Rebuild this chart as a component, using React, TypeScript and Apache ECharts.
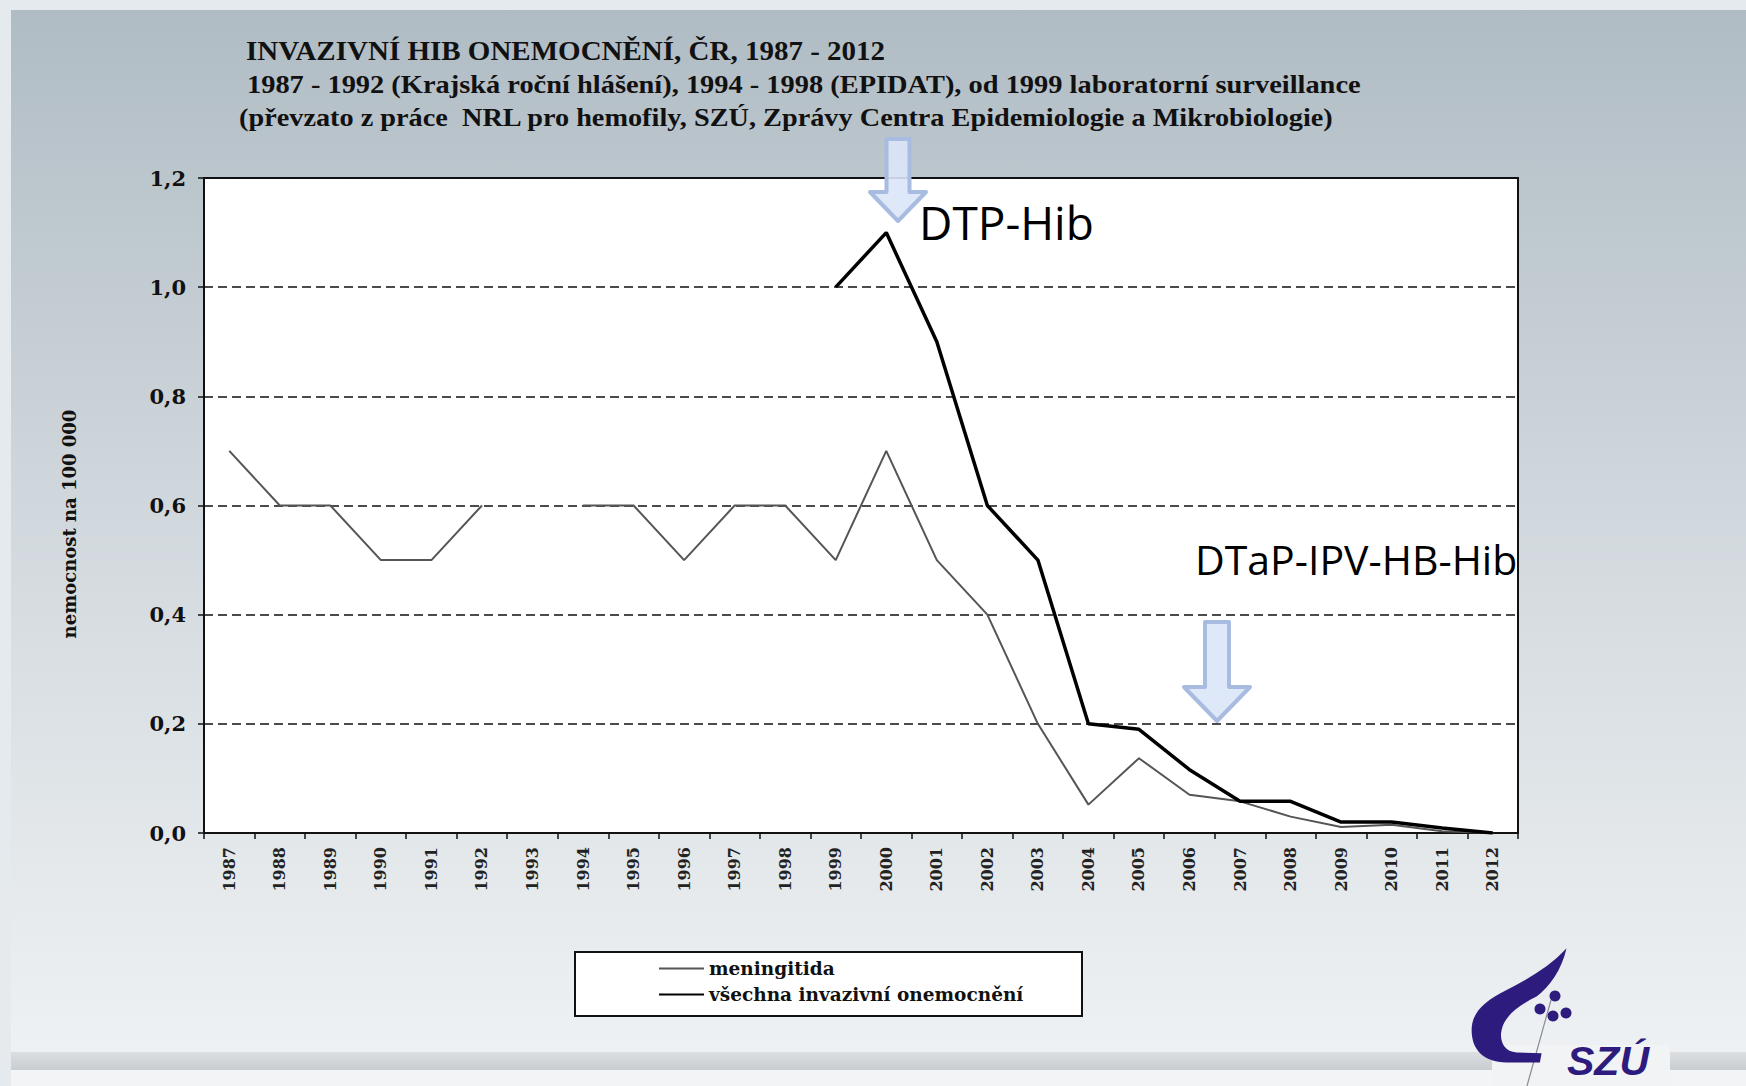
import React, { useEffect, useRef } from "react";
import * as echarts from "echarts";

const years = [
  "1987", "1988", "1989", "1990", "1991", "1992", "1993", "1994", "1995", "1996", "1997", "1998", "1999",
  "2000", "2001", "2002", "2003", "2004", "2005", "2006", "2007", "2008", "2009", "2010", "2011", "2012",
];
const meningitida = [
  0.7, 0.6, 0.6, 0.5, 0.5, 0.6, null, 0.6, 0.6, 0.5, 0.6, 0.6, 0.5,
  0.7, 0.5, 0.4, 0.2, 0.052, 0.137, 0.07, 0.058, 0.03, 0.011, 0.015, 0.003, 0,
];
const vsechna = [
  null, null, null, null, null, null, null, null, null, null, null, null, 1.0,
  1.1, 0.9, 0.6, 0.5, 0.2, 0.19, 0.116, 0.058, 0.058, 0.02, 0.02, 0.009, 0,
];
const seriesNames = ["meningitida", "všechna invazivní onemocnění"];
const titleLines = [
  "INVAZIVNÍ HIB ONEMOCNĚNÍ, ČR, 1987 - 2012",
  "1987 - 1992 (Krajská roční hlášení), 1994 - 1998 (EPIDAT), od 1999 laboratorní surveillance",
  "(převzato z práce  NRL pro hemofily, SZÚ, Zprávy Centra Epidemiologie a Mikrobiologie)",
];
const yAxisName = "nemocnost na 100 000";
const annotations = ["DTP-Hib", "DTaP-IPV-HB-Hib"];

const logoPath =
  "M380 55 C330 110 260 150 200 180 C130 215 95 250 95 300 C95 360 130 395 200 398 L300 398 L305 370 L230 368 C190 365 178 330 185 300 C195 255 240 225 290 200 C330 170 365 120 380 55 Z";

function arrowPoints(cx: number, top: number, shaftHalf: number, headY: number, headHalf: number, tipY: number) {
  return [
    [cx - shaftHalf, top],
    [cx + shaftHalf, top],
    [cx + shaftHalf, headY],
    [cx + headHalf, headY],
    [cx, tipY],
    [cx - headHalf, headY],
    [cx - shaftHalf, headY],
  ];
}

export default function App() {
  const ref = useRef<HTMLDivElement>(null);
  useEffect(() => {
    if (!ref.current) return;
    try {
      echarts.graphic.registerShape("szulogo", echarts.graphic.extendPath(logoPath, {}));
    } catch (e) {}
    const chart = echarts.init(ref.current, null, { renderer: "svg" });
    const serif = "Liberation Serif";
    const dserif = "DejaVu Serif";
    const arrowStyle = {
      fill: "rgba(220,230,247,0.9)",
      stroke: "#a8bbe0",
      lineWidth: 4,
      lineJoin: "round",
    };
    const titleText = (i: number, x: number, y: number, size: number, sx: number) => ({
      type: "text",
      z: 5,
      x,
      y,
      scaleX: sx,
      style: {
        text: titleLines[i],
        fontFamily: serif,
        fontWeight: "bold",
        fontSize: size,
        fill: "#111",
        verticalAlign: "middle",
        align: "left",
      },
    });
    chart.setOption({
      animation: false,
      grid: {
        left: 204,
        right: 228,
        top: 178,
        bottom: 253,
        show: true,
        backgroundColor: "#ffffff",
        borderColor: "#111",
        borderWidth: 2,
      },
      legend: {
        left: 658,
        top: 958,
        orient: "vertical",
        itemWidth: 45,
        itemHeight: 14,
        itemGap: 5,
        padding: 0,
        data: seriesNames,
        itemStyle: { opacity: 0 },
        textStyle: {
          fontFamily: dserif,
          fontWeight: "bold",
          fontSize: 18.5,
          color: "#111",
          lineHeight: 21,
        },
      },
      xAxis: {
        type: "category",
        data: years,
        boundaryGap: true,
        axisLine: { lineStyle: { color: "#111", width: 2 } },
        axisTick: { show: true, length: 6, lineStyle: { color: "#111", width: 1.5 } },
        axisLabel: {
          rotate: 90,
          margin: 14,
          fontFamily: dserif,
          fontWeight: "bold",
          fontSize: 16,
          color: "#222",
        },
        splitLine: { show: false },
      },
      yAxis: {
        type: "value",
        min: 0,
        max: 1.2,
        interval: 0.2,
        axisLine: { show: true, lineStyle: { color: "#111", width: 2 } },
        axisTick: { show: true, length: 6, lineStyle: { color: "#111", width: 1.5 } },
        axisLabel: {
          margin: 18,
          fontFamily: dserif,
          fontWeight: "bold",
          fontSize: 21,
          color: "#111",
          formatter: (v: number) => v.toFixed(1).replace(".", ","),
        },
        splitLine: { show: true, lineStyle: { color: "#111", width: 1.5, type: [9, 5] } },
      },
      series: [
        {
          name: seriesNames[0],
          type: "line",
          data: meningitida,
          symbol: "none",
          connectNulls: false,
          lineStyle: { color: "#555", width: 2 },
          itemStyle: { color: "#555" },
          z: 3,
        },
        {
          name: seriesNames[1],
          type: "line",
          data: vsechna,
          symbol: "none",
          connectNulls: false,
          lineStyle: { color: "#000", width: 3.5 },
          itemStyle: { color: "#000" },
          z: 4,
        },
      ],
      graphic: [
        {
          type: "rect",
          z: -100,
          silent: true,
          shape: { x: 0, y: 0, width: 1746, height: 1086 },
          style: { fill: "#e4eaee" },
        },
        {
          type: "rect",
          z: -99,
          silent: true,
          shape: { x: 11, y: 10, width: 1735, height: 1042 },
          style: {
            fill: new echarts.graphic.LinearGradient(0, 0, 0, 1, [
              { offset: 0, color: "#b0bcc4" },
              { offset: 0.5, color: "#d2d9de" },
              { offset: 1, color: "#eef1f3" },
            ]),
          },
        },
        {
          type: "rect",
          z: -99,
          silent: true,
          shape: { x: 11, y: 1052, width: 1735, height: 18 },
          style: {
            fill: new echarts.graphic.LinearGradient(0, 0, 0, 1, [
              { offset: 0, color: "#dcdfe2" },
              { offset: 1, color: "#c8cdd1" },
            ]),
          },
        },
        {
          type: "rect",
          z: -99,
          silent: true,
          shape: { x: 11, y: 1070, width: 1735, height: 16 },
          style: { fill: "#f3f4f5" },
        },
        {
          type: "rect",
          z: -98,
          silent: true,
          shape: { x: 1492, y: 1045, width: 178, height: 41 },
          style: { fill: "#f1f3f4" },
        },
        titleText(0, 246, 51, 28, 1.036),
        titleText(1, 247, 84, 26, 1.093),
        titleText(2, 239, 117, 26, 1.088),
        {
          type: "text",
          z: 5,
          x: 69,
          y: 524,
          rotation: Math.PI / 2,
          style: {
            text: yAxisName,
            fontFamily: dserif,
            fontWeight: "bold",
            fontSize: 18,
            fill: "#111",
            verticalAlign: "middle",
            align: "center",
          },
        },
        // arrows
        {
          type: "polygon",
          z: 10,
          shape: { points: arrowPoints(898, 139, 11.5, 192, 28, 221) },
          style: arrowStyle,
        },
        {
          type: "polygon",
          z: 10,
          shape: { points: arrowPoints(1217, 622, 12, 687, 33, 721) },
          style: arrowStyle,
        },
        {
          type: "text",
          z: 10,
          x: 919,
          y: 222,
          style: {
            text: annotations[0],
            fontFamily: "Open Sans",
            fontSize: 46,
            fill: "#000",
            verticalAlign: "middle",
            align: "left",
          },
        },
        {
          type: "text",
          z: 10,
          x: 1195,
          y: 559,
          style: {
            text: annotations[1],
            fontFamily: "Open Sans",
            fontSize: 41,
            fill: "#000",
            verticalAlign: "middle",
            align: "left",
          },
        },
        // legend box
        {
          type: "rect",
          z: 1,
          shape: { x: 575, y: 952, width: 507, height: 64 },
          style: { fill: "#ffffff", stroke: "#111", lineWidth: 2 },
        },
        // logo
        {
          type: "line",
          z: 6,
          shape: { x1: 1551, y1: 1000, x2: 1527, y2: 1086 },
          style: { stroke: "#8a8a94", lineWidth: 1.2 },
        },
        {
          type: "szulogo",
          z: 7,
          x: 1440,
          y: 930,
          scaleX: 1 / 3,
          scaleY: 1 / 3,
          style: { fill: "#2d1b7e" },
        },
        { type: "circle", z: 7, shape: { cx: 1555, cy: 996, r: 5.5 }, style: { fill: "#2d1b7e" } },
        { type: "circle", z: 7, shape: { cx: 1540, cy: 1009, r: 5.5 }, style: { fill: "#2d1b7e" } },
        { type: "circle", z: 7, shape: { cx: 1553, cy: 1016, r: 5.5 }, style: { fill: "#2d1b7e" } },
        { type: "circle", z: 7, shape: { cx: 1566, cy: 1013, r: 5.5 }, style: { fill: "#2d1b7e" } },
        {
          type: "text",
          z: 7,
          x: 1567,
          y: 1061,
          style: {
            text: "SZÚ",
            fontFamily: "Liberation Sans",
            fontWeight: "bold",
            fontStyle: "italic",
            fontSize: 41,
            fill: "#2d1b7e",
            verticalAlign: "middle",
            align: "left",
          },
        },
      ],
    });
    return () => chart.dispose();
  }, []);
  return (
    <div
      ref={ref}
      style={{ position: "absolute", left: 0, top: 0, width: 1746, height: 1086 }}
    />
  );
}
